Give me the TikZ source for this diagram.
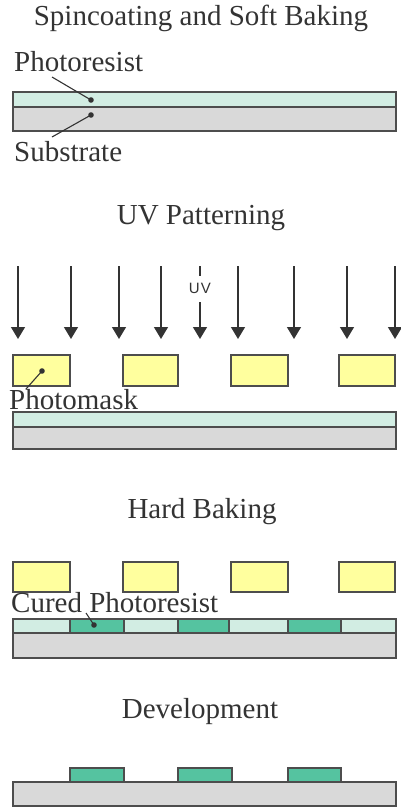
\documentclass[tikz,border=0pt]{standalone}
\usepackage{fontspec}
\setmainfont{Liberation Serif}
\newfontfamily\uvfont[LetterSpace=8]{Liberation Sans}
\usetikzlibrary{arrows.meta}
\definecolor{resist}{HTML}{D2EDE3}
\definecolor{substr}{HTML}{D9D9D9}
\definecolor{maskfill}{HTML}{FFFF9E}
\definecolor{cured}{HTML}{55C3A0}
\definecolor{edge}{HTML}{4D4D4D}
\definecolor{ink}{HTML}{333333}
\tikzset{
  layer/.style={draw=edge, line width=1.7pt},
  title/.style={font=\fontsize{29}{30}\selectfont, text=ink, inner sep=0pt},
  label/.style={font=\fontsize{29}{30}\selectfont, text=ink, inner sep=0pt, anchor=west},
  leader/.style={draw=ink, line width=1.1pt},
  uvray/.style={draw=ink, line width=1.4pt, -{Triangle[width=14pt,length=12pt]}}
}
\begin{document}
\begin{tikzpicture}[x=1pt, y=-1pt]
    \useasboundingbox (0,0) rectangle (401,807);

    % Spincoating
    \node[title] (t1) at (201,18) {Spincoating and Soft Baking};
    \draw[layer, fill=substr] (13,107) rectangle (396,131);
    \draw[layer, fill=resist] (13,92) rectangle (396,107);
    \coordinate (dR) at (91,100);
    \coordinate (dS) at (91,115);
    \fill[ink] (dR) circle (2.8pt);
    \fill[ink] (dS) circle (2.8pt);
    \node[label] (lR) at (14,62) {Photoresist};
    \node[label] (lS) at (14,152) {Substrate};
    \coordinate (eR) at (52,77);
    \coordinate (eS) at (52,137);
    \draw[leader] (eR) -- (dR);
    \draw[leader] (eS) -- (dS);

    % UV
    \node[title] (t2) at (201,218) {UV Patterning};
    \foreach \x in {18,71,119,161,200,238,294,347,395}
        \draw[uvray] (\x,266) -- (\x,339);
    \node[fill=white, minimum height=26pt, inner xsep=0pt, text=ink,
          font=\uvfont\fontsize{15}{15}\selectfont] (uv) at (200,288.5) {UV};
    \foreach \a/\b in {13/70,123/178,231/288,339/395}
        \draw[layer, fill=maskfill] (\a,355) rectangle (\b,386);
    \draw[layer, fill=substr] (13,427) rectangle (396,449);
    \draw[layer, fill=resist] (13,412) rectangle (396,427);
    \coordinate (dM) at (42,371);
    \fill[ink] (dM) circle (2.8pt);
    \node[label] (lM) at (9,400) {Photomask};
    \coordinate (eM) at (26,389);
    \draw[leader] (eM) -- (dM);

    % Hard Baking
    \node[title] (t3) at (202,512) {Hard Baking};
    \foreach \a/\b in {13/70,123/178,231/288,339/395}
        \draw[layer, fill=maskfill] (\a,562) rectangle (\b,592);
    \draw[layer, fill=substr] (13,633) rectangle (396,658);
    \draw[layer, fill=resist] (13,619) rectangle (396,633);
    \foreach \a/\b in {70/124,178/229,288/341}
        \draw[layer, fill=cured] (\a,619) rectangle (\b,633);
    \coordinate (dC) at (94,625);
    \fill[ink] (dC) circle (2.8pt);
    \node[label] (lC) at (11,603) {Cured Photoresist};
    \coordinate (eC) at (86,613);
    \draw[leader] (eC) -- (dC);

    % Development
    \node[title] (t4) at (200,712) {Development};
    \draw[layer, fill=substr] (13,782) rectangle (396,806);
    \foreach \a/\b in {70/124,178/232,288/341}
        \draw[layer, fill=cured] (\a,768) rectangle (\b,782);
\end{tikzpicture}
\end{document}
